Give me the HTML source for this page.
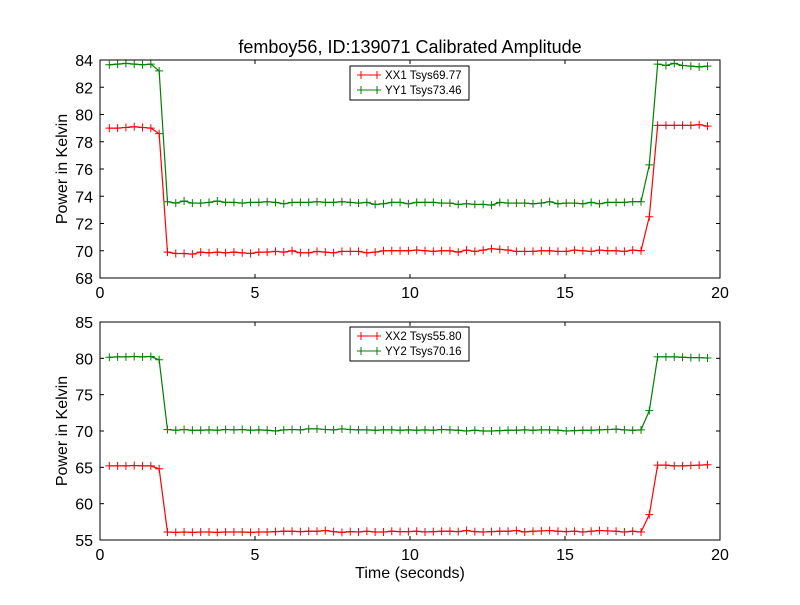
<!DOCTYPE html>
<html><head><meta charset="utf-8"><style>
html,body{margin:0;padding:0;background:#fff;}
svg text{font-family:"Liberation Sans","DejaVu Sans",sans-serif;}
</style></head><body>
<svg id="fig" width="800" height="600" xmlns="http://www.w3.org/2000/svg">
<rect width="800" height="600" fill="#fff"/>
<text x="410" y="53" font-size="18" text-anchor="middle">femboy56, ID:139071 Calibrated Amplitude</text>
<text x="410" y="578" font-size="16" text-anchor="middle">Time (seconds)</text>
</svg>
<script>
const N = 73;
const T0 = 0.3, DT = 0.268;
const times = Array.from({length:N},(_,i)=>+(T0+DT*i).toFixed(3));
const xTicks = [0,5,10,15,20];
const yTicks1 = [68,70,72,74,76,78,80,82,84];
const yTicks2 = [55,60,65,70,75,80,85];
const lowXX1 = [69.9,69.8,69.8,69.75,69.9,69.85,69.9,69.85,69.9,69.85,69.8,69.9,69.9,69.95,69.9,70.0,69.85,69.85,69.95,69.9,69.85,69.95,69.95,69.95,69.85,69.9,70.0,70.0,70.0,70.0,70.05,70.0,69.95,70.0,70.0,69.9,70.05,69.95,70.05,70.15,70.1,70.05,69.95,69.95,69.95,70.0,70.0,69.95,69.95,70.05,70.0,69.95,70.05,70.0,70.0,69.95,70.05,70.0];
const lowYY1 = [73.6,73.5,73.65,73.5,73.5,73.55,73.65,73.55,73.55,73.5,73.55,73.55,73.6,73.55,73.45,73.55,73.55,73.55,73.6,73.55,73.55,73.6,73.55,73.5,73.55,73.4,73.45,73.55,73.55,73.45,73.55,73.55,73.55,73.5,73.5,73.4,73.45,73.4,73.4,73.35,73.55,73.5,73.5,73.5,73.45,73.5,73.6,73.45,73.5,73.5,73.45,73.55,73.45,73.55,73.55,73.55,73.6,73.6];
const seriesXX1 = [79.0,79.0,79.05,79.1,79.05,79.0,78.6].concat(lowXX1,[72.5,79.2,79.2,79.2,79.2,79.2,79.25,79.15]);
const seriesYY1 = [83.65,83.7,83.75,83.7,83.65,83.7,83.2].concat(lowYY1,[76.3,83.7,83.6,83.75,83.6,83.55,83.5,83.55]);
const lowXX2 = [56.1,56.05,56.1,56.05,56.1,56.1,56.05,56.1,56.1,56.1,56.05,56.1,56.1,56.15,56.2,56.2,56.15,56.2,56.2,56.3,56.15,56.05,56.15,56.1,56.2,56.1,56.1,56.2,56.15,56.15,56.2,56.1,56.15,56.2,56.2,56.15,56.3,56.15,56.1,56.15,56.2,56.2,56.3,56.1,56.2,56.25,56.3,56.2,56.15,56.2,56.1,56.2,56.3,56.25,56.2,56.1,56.2,56.1];
const lowYY2 = [70.2,70.1,70.2,70.1,70.1,70.15,70.1,70.2,70.15,70.2,70.1,70.15,70.1,70.0,70.15,70.2,70.15,70.3,70.3,70.2,70.15,70.3,70.2,70.15,70.15,70.1,70.15,70.15,70.1,70.15,70.1,70.15,70.1,70.2,70.15,70.1,70.0,70.1,70.0,70.0,70.05,70.1,70.1,70.15,70.1,70.15,70.15,70.1,70.0,70.05,70.1,70.1,70.15,70.2,70.25,70.15,70.1,70.15];
const seriesXX2 = [65.2,65.2,65.2,65.25,65.2,65.2,64.8].concat(lowXX2,[58.5,65.3,65.3,65.2,65.2,65.25,65.3,65.35]);
const seriesYY2 = [80.15,80.2,80.2,80.25,80.2,80.25,79.8].concat(lowYY2,[72.8,80.2,80.2,80.2,80.15,80.1,80.1,80.05]);
const labels1 = ["XX1 Tsys69.77","YY1 Tsys73.46"];
const labels2 = ["XX2 Tsys55.80","YY2 Tsys70.16"];

const NS="http://www.w3.org/2000/svg";
const svg=document.getElementById('fig');
function mk(tag,attrs,parent){const e=document.createElementNS(NS,tag);for(const k in attrs)e.setAttribute(k,attrs[k]);(parent||svg).appendChild(e);return e;}

function panel(id,top,bottom,yTicks,ser,labels,lx,ly){
  const L=100,R=720,ymin=yTicks[0],ymax=yTicks[yTicks.length-1];
  const xs=v=>L+(v-0)/(20-0)*(R-L);
  const ys=v=>bottom-(v-ymin)/(ymax-ymin)*(bottom-top);
  const g=mk('g',{});
  
  
  const colors=['#ff0000','#008000'];
  ser.forEach((s,si)=>{
    const pts=times.map((t,i)=>xs(t).toFixed(2)+','+ys(s[i]).toFixed(2)).join(' ');
    const pl=mk('polyline',{points:pts,fill:'none',stroke:colors[si],'stroke-width':1.2},g);
    
    
    let d='';
    times.forEach((t,i)=>{const x=xs(t),y=ys(s[i]);d+=`M${x-4},${y}h8M${x},${y-4}v8`;});
    const mp=mk('path',{d:d,stroke:colors[si],'stroke-width':1,fill:'none'},g);
    
    
  });
  const fr=mk('rect',{x:L,y:top,width:R-L,height:bottom-top,fill:'none',stroke:'#000','stroke-width':1},g);
  
  
  xTicks.forEach(v=>{
    const x=xs(v);
    mk('line',{x1:x,x2:x,y1:bottom,y2:bottom-4,stroke:'#000'},g);
    mk('line',{x1:x,x2:x,y1:top,y2:top+4,stroke:'#000'},g);
    const t=mk('text',{x:x,y:bottom+20,'font-size':16,'text-anchor':'middle'},g);
    t.textContent=v;
    
    
  });
  yTicks.forEach(v=>{
    const y=ys(v);
    mk('line',{x1:L,x2:L+4,y1:y,y2:y,stroke:'#000'},g);
    mk('line',{x1:R,x2:R-4,y1:y,y2:y,stroke:'#000'},g);
    const t=mk('text',{x:L-7,y:y+6,'font-size':16,'text-anchor':'end'},g);
    t.textContent=v;
    
    
  });
  const yl=mk('text',{x:0,y:0,'font-size':16,'text-anchor':'middle',transform:`translate(67,${(top+bottom)/2}) rotate(-90)`},g);
  yl.textContent='Power in Kelvin';
  
  
  const lg=mk('g',{},g);
  
  
  mk('rect',{x:lx,y:ly,width:119,height:34,fill:'#fff',stroke:'#000','stroke-width':1},lg);
  labels.forEach((lab,i)=>{
    const yy=ly+9+i*15;
    mk('path',{d:`M${lx+7},${yy}h24M${lx+11},${yy-4}v8M${lx+27},${yy-4}v8`,stroke:colors[i],'stroke-width':1,fill:'none'},lg);
    const t=mk('text',{x:lx+35,y:yy+4,'font-size':11.5},lg);
    t.textContent=lab;
    
    
  });
}
panel('top',60,278,yTicks1,[seriesXX1,seriesYY1],labels1,350,66);
panel('bottom',322,540,yTicks2,[seriesXX2,seriesYY2],labels2,350,327);
</script>
</body></html>
